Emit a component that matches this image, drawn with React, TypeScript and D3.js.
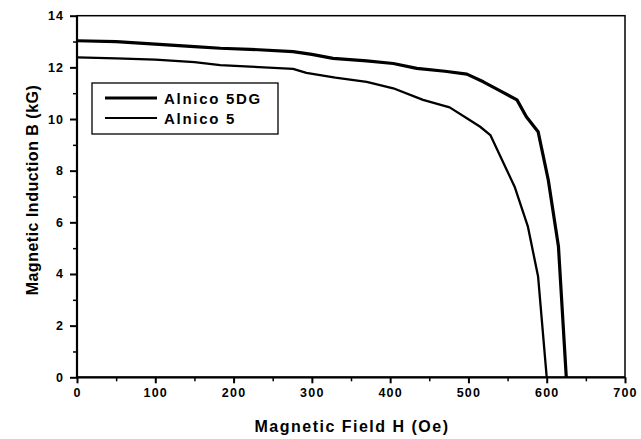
import React, { useEffect, useRef } from 'react';
import * as d3 from 'd3';

// Alnico 5DG demagnetisation curve (H in Oe, B in kG)
const h5dg = [0, 50, 100, 150, 183, 221, 276, 300, 327, 370, 404, 434, 470, 498, 519, 540, 562, 574, 589, 602, 615, 625];
const b5dg = [13.03, 13.0, 12.9, 12.8, 12.74, 12.7, 12.61, 12.5, 12.35, 12.25, 12.15, 11.96, 11.85, 11.74, 11.44, 11.1, 10.74, 10.09, 9.51, 7.64, 5.06, 0];

// Alnico 5
const h5 = [0, 50, 100, 150, 183, 221, 276, 293, 330, 370, 404, 442, 476, 498, 515, 528, 547, 559, 576, 589, 600];
const b5 = [12.39, 12.35, 12.3, 12.2, 12.09, 12.03, 11.94, 11.79, 11.6, 11.44, 11.19, 10.74, 10.45, 10.03, 9.7, 9.38, 8.15, 7.38, 5.83, 3.9, 0];

const seriesNames = ['Alnico 5DG', 'Alnico 5'];
const xTicks = [0, 100, 200, 300, 400, 500, 600, 700];
const yTicks = [0, 2, 4, 6, 8, 10, 12, 14];

const FONT = '"Liberation Sans", Arial, sans-serif';

const App: React.FC = () => {
  const ref = useRef<SVGSVGElement>(null);

  useEffect(() => {
    if (!ref.current) return;
    const svg = d3.select(ref.current);
    svg.selectAll('*').remove();

    const x = d3.scaleLinear().domain([0, 700]).range([77, 625]);
    const y = d3.scaleLinear().domain([0, 14]).range([377.3, 15.7]);

    const g = svg.append('g');

    // frame
    g.append('rect')
      .attr('x', x(0))
      .attr('y', y(14))
      .attr('width', x(700) - x(0))
      .attr('height', y(0) - y(14))
      .attr('fill', 'none')
      .attr('stroke', '#000')
      .attr('stroke-width', 1.5);
    g.append('line').attr('x1', x(0)).attr('x2', x(0)).attr('y1', y(14)).attr('y2', y(0) + 1)
      .attr('stroke', '#000').attr('stroke-width', 2.2);
    g.append('line').attr('x1', x(0) - 1).attr('x2', x(700)).attr('y1', y(0)).attr('y2', y(0))
      .attr('stroke', '#000').attr('stroke-width', 2.2);

    // x axis
    const xAxis = d3.axisBottom(x).tickValues(xTicks).tickSize(6).tickPadding(5).tickFormat(d3.format('d'));
    const xg = g.append('g').attr('transform', `translate(0,${y(0)})`).call(xAxis);
    xg.select('.domain').remove();
    xg.selectAll('line').attr('stroke-width', 2);
    xg.selectAll('text').style('font-family', FONT).style('font-size', '12.5px').style('font-weight', 'bold')
      .style('letter-spacing', '1.2px');
    const xMinor = d3.axisBottom(x).tickValues(d3.range(50, 700, 100)).tickSize(4).tickFormat(() => '');
    const xmg = g.append('g').attr('transform', `translate(0,${y(0)})`).call(xMinor);
    xmg.select('.domain').remove();
    xmg.selectAll('line').attr('stroke-width', 1.5);

    // y axis
    const yAxis = d3.axisLeft(y).tickValues(yTicks).tickSize(7).tickPadding(6).tickFormat(d3.format('d'));
    const yg = g.append('g').attr('transform', `translate(${x(0)},0)`).call(yAxis);
    yg.select('.domain').remove();
    yg.selectAll('line').attr('stroke-width', 2);
    yg.selectAll('text').style('font-family', FONT).style('font-size', '12.5px').style('font-weight', 'bold')
      .style('letter-spacing', '1px');
    const yMinor = d3.axisLeft(y).tickValues(d3.range(1, 14, 2)).tickSize(4).tickFormat(() => '');
    const ymg = g.append('g').attr('transform', `translate(${x(0)},0)`).call(yMinor);
    ymg.select('.domain').remove();
    ymg.selectAll('line').attr('stroke-width', 1.5);

    // curves
    const line = d3.line<[number, number]>().x((d) => x(d[0])).y((d) => y(d[1]));
    const d5dg: [number, number][] = h5dg.map((h, i) => [h, b5dg[i]]);
    const d5: [number, number][] = h5.map((h, i) => [h, b5[i]]);
    g.append('path').datum(d5dg).attr('d', line).attr('fill', 'none').attr('stroke', '#000')
      .attr('stroke-width', 3.2).attr('stroke-linejoin', 'round');
    g.append('path').datum(d5).attr('d', line).attr('fill', 'none').attr('stroke', '#000')
      .attr('stroke-width', 2.3).attr('stroke-linejoin', 'round');

    // legend
    const lg = g.append('g');
    lg.append('rect').attr('x', 92).attr('y', 83).attr('width', 186).attr('height', 51)
      .attr('fill', '#fff').attr('stroke', '#000').attr('stroke-width', 1.3);
    seriesNames.forEach((name, i) => {
      const ly = 98 + i * 20;
      lg.append('line').attr('x1', 105).attr('x2', 157).attr('y1', ly).attr('y2', ly)
        .attr('stroke', '#000').attr('stroke-width', i === 0 ? 3 : 2.2);
      lg.append('text').attr('x', 164).attr('y', ly + 5.5).text(name)
        .style('font-family', FONT).style('font-size', '15px').style('font-weight', 'bold')
        .style('letter-spacing', '1.7px');
    });

    // axis titles
    g.append('text').attr('x', 352).attr('y', 432).attr('text-anchor', 'middle')
      .text('Magnetic Field H (Oe)')
      .style('font-family', FONT).style('font-size', '16px').style('font-weight', 'bold')
      .style('letter-spacing', '1.5px');
    g.append('text').attr('transform', `translate(38,190) rotate(-90)`).attr('text-anchor', 'middle')
      .text('Magnetic Induction B (kG)')
      .style('font-family', FONT).style('font-size', '16px').style('font-weight', 'bold')
      .style('letter-spacing', '0.5px');
  }, []);

  return <svg ref={ref} width={641} height={439} style={{ position: 'absolute', left: 0, top: 0, background: '#fff' }} />;
};

export default App;
